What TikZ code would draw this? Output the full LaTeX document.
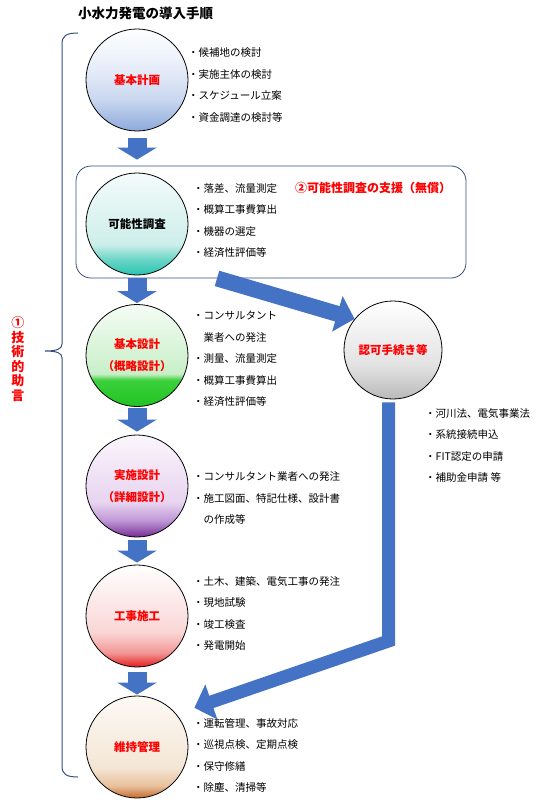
\documentclass[tikz,border=0pt]{standalone}
\usepackage{fontspec}
\setmainfont{Noto Sans CJK JP}
\usetikzlibrary{positioning, arrows.meta, calc}

\definecolor{flowblue}{HTML}{4472C4}
\definecolor{bracketblue}{HTML}{34507F}
\definecolor{stagered}{HTML}{FF0000}

% fills of the stage circles (25bp = bottom, 75bp = top)
\pgfdeclareverticalshading{planshade}{100bp}{color(0bp)=(rgb,255:red,140;green,168;blue,218); color(25bp)=(rgb,255:red,140;green,168;blue,218); color(40bp)=(rgb,255:red,200;green,214;blue,239); color(55bp)=(rgb,255:red,229;green,236;blue,248); color(75bp)=(white); color(100bp)=(white)}
\pgfdeclareverticalshading{feasshade}{100bp}{color(0bp)=(rgb,255:red,40;green,196;blue,176); color(25bp)=(rgb,255:red,40;green,196;blue,176); color(33bp)=(rgb,255:red,110;green,214;blue,200); color(40bp)=(rgb,255:red,205;green,238;blue,234); color(75bp)=(rgb,255:red,244;green,251;blue,251); color(100bp)=(white)}
\pgfdeclareverticalshading{designshade}{100bp}{color(0bp)=(rgb,255:red,34;green,195;blue,34); color(25bp)=(rgb,255:red,34;green,195;blue,34); color(38bp)=(rgb,255:red,60;green,208;blue,60); color(41bp)=(rgb,255:red,200;green,239;blue,200); color(75bp)=(rgb,255:red,245;green,252;blue,245); color(100bp)=(white)}
\pgfdeclareverticalshading{detailshade}{100bp}{color(0bp)=(rgb,255:red,118;green,44;blue,150); color(25bp)=(rgb,255:red,118;green,44;blue,150); color(33bp)=(rgb,255:red,190;green,150;blue,212); color(42bp)=(rgb,255:red,232;green,212;blue,240); color(75bp)=(rgb,255:red,251;green,246;blue,252); color(100bp)=(white)}
\pgfdeclareverticalshading{buildshade}{100bp}{color(0bp)=(rgb,255:red,228;green,28;blue,28); color(25bp)=(rgb,255:red,228;green,28;blue,28); color(32bp)=(rgb,255:red,242;green,150;blue,150); color(42bp)=(rgb,255:red,250;green,214;blue,214); color(75bp)=(white); color(100bp)=(white)}
\pgfdeclareverticalshading{maintshade}{100bp}{color(0bp)=(rgb,255:red,198;green,106;blue,44); color(25bp)=(rgb,255:red,198;green,106;blue,44); color(31bp)=(rgb,255:red,232;green,192;blue,156); color(40bp)=(rgb,255:red,244;green,230;blue,214); color(75bp)=(rgb,255:red,252;green,249;blue,244); color(100bp)=(white)}
\pgfdeclareverticalshading{permitshade}{100bp}{color(0bp)=(rgb,255:red,185;green,185;blue,185); color(25bp)=(rgb,255:red,185;green,185;blue,185); color(42bp)=(rgb,255:red,226;green,226;blue,226); color(75bp)=(white); color(100bp)=(white)}

\begin{document}
\begin{tikzpicture}[
    x=1pt, y=-1pt,
    stage/.style={circle, draw=black, line width=0.8pt, minimum size=102pt, inner sep=0pt, align=center, text=stagered, font=\bfseries\fontsize{11.5}{22}\selectfont},
    items/.style={anchor=west, align=left, inner sep=0pt, font=\fontsize{10.5}{21.5}\selectfont},
    stepdown/.style={draw=flowblue, line width=19pt, -{Triangle[length=12pt, width=39pt]}},
    bigarrow/.style={draw=flowblue, line width=15pt, line join=miter, -{Triangle[length=18pt, width=36pt]}}
]
    \useasboundingbox (0,0) rectangle (544,800);

    \node[anchor=west, inner sep=0pt, font=\bfseries\fontsize{13.5}{16}\selectfont] (title) at (78,13) {小水力発電の導入手順};

    % stages
    \node[stage, shading=planshade] (plan) at (137,80) {基本計画};
    \node[draw=bracketblue, line width=0.8pt, rounded corners=15pt, minimum width=390pt, minimum height=112pt] (box) at (271,222) {};
    \node[stage, shading=feasshade, text=black] (feas) at (137,224) {可能性調査};
    \node[stage, shading=designshade] (design) at (137,355.5) {基本設計\\（概略設計）};
    \node[stage, shading=detailshade] (detail) at (137,486) {実施設計\\（詳細設計）};
    \node[stage, shading=buildshade] (build) at (137,616) {工事施工};
    \node[stage, shading=maintshade] (maint) at (137,747) {維持管理};
    \node[stage, shading=permitshade, minimum size=98pt] (permit) at (393,350) {認可手続き等};

    % lists
    \node[items] (planlist) at (188,85) {・候補地の検討\\・実施主体の検討\\・スケジュール立案\\・資金調達の検討等};
    \node[items] (feaslist) at (193,220.5) {・落差、流量測定\\・概算工事費算出\\・機器の選定\\・経済性評価等};
    \node[anchor=west, inner sep=0pt, text=stagered, font=\bfseries\fontsize{12}{14}\selectfont] (support) at (295,188) {②可能性調査の支援（無償）};
    \node[items] (designlist) at (193,359) {・コンサルタント\\\hspace*{1em}業者への発注\\・測量、流量測定\\・概算工事費算出\\・経済性評価等};
    \node[items] (detaillist) at (193,498.5) {・コンサルタント業者への発注\\・施工図面、特記仕様、設計書\\\hspace*{1em}の作成等};
    \node[items] (buildlist) at (193,613.5) {・土木、建築、電気工事の発注\\・現地試験\\・竣工検査\\・発電開始};
    \node[items] (maintlist) at (193,755.5) {・運転管理、事故対応\\・巡視点検、定期点検\\・保守修繕\\・除塵、清掃等};
    \node[items] (permitlist) at (425,445.5) {・河川法、電気事業法\\・系統接続申込\\・FIT認定の申請\\・補助金申請 等};

    % technical advice bracket
    \draw[bracketblue, line width=1pt] (78,33) .. controls (66,33) and (62,36) .. (62,44) -- (62,344)
        .. controls (62,349) and (57,351) .. (45,351) .. controls (57,351) and (62,353) .. (62,358)
        -- (62,766) .. controls (62,774) and (66,777) .. (78,777);
    \node[text=stagered, align=center, inner sep=0pt, font=\bfseries\fontsize{13}{14.5}\selectfont] (advice) at (18,359) {①\\技\\術\\的\\助\\言};

    % flow
    \draw[stepdown, shorten <=7pt, shorten >=6pt] (plan.south) -- (plan.south |- box.north);
    \draw[stepdown, shorten >=1pt] (design.north |- box.south) -- (design.north);
    \draw[stepdown, shorten <=1pt, shorten >=3pt] (design.south) -- (detail.north);
    \draw[stepdown, shorten <=3pt, shorten >=2pt] (detail.south) -- (build.north);
    \draw[stepdown, shorten <=5pt, shorten >=1pt] (build.south) -- (maint.north);

    \draw[bigarrow, line width=16pt] ([xshift=-54pt]box.south) -- (permit.141);
    \coordinate (bend) at (388.5,641);
    \draw[bigarrow, line width=13pt, shorten <=3pt, shorten >=19pt] (bend |- permit.south) -- (bend) -- (maint.40);
\end{tikzpicture}
\end{document}
